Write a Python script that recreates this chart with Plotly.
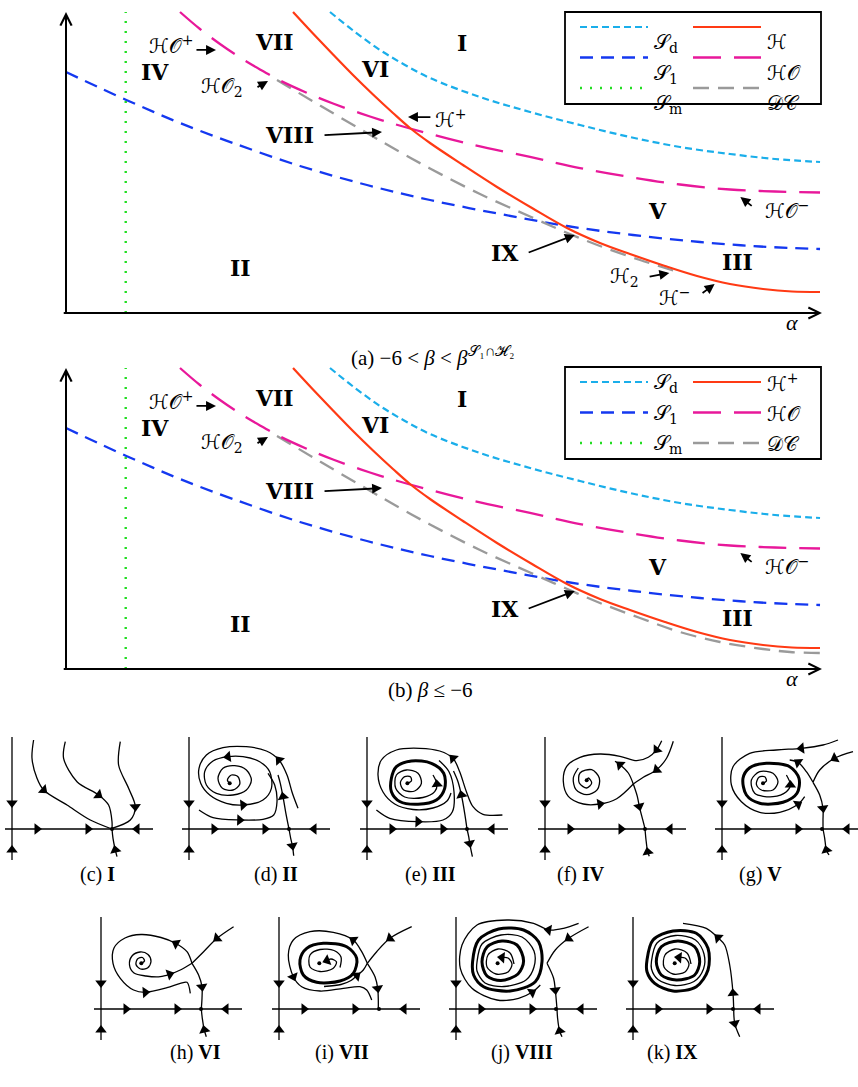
import math
import plotly.graph_objects as go

W, H = 858, 1087

# ---------------------------------------------------------------- bifurcation diagrams (a), (b)
SD_ALPHA = [3.492, 3.823, 4.153, 4.484, 4.815, 5.476, 6.138, 6.799, 7.460, 8.122, 8.783, 9.378, 9.974]
SD_DELTA = [10.0, 9.336, 8.738, 8.239, 7.807, 7.176, 6.678, 6.246, 5.847, 5.515, 5.282, 5.116, 5.017]
S1_ALPHA = [0.0, 0.450, 0.979, 1.508, 2.209, 3.095, 3.981, 4.815, 5.741, 6.627, 7.500, 8.386, 9.180, 9.974]
S1_DELTA = [8.007, 7.475, 6.877, 6.312, 5.648, 4.884, 4.252, 3.754, 3.289, 2.890, 2.591, 2.359, 2.209, 2.126]
SM_ALPHA = [0.79, 0.79]
SM_DELTA = [0.0, 10.0]
H_ALPHA = [3.003, 3.267, 3.532, 3.796, 4.061, 4.325, 4.550, 4.815, 5.251, 5.701, 6.164, 6.627, 7.063,
           7.460, 7.923, 8.347, 8.783, 9.220, 9.603, 9.974]
H_DELTA = [10.0, 9.286, 8.588, 7.907, 7.259, 6.645, 6.146, 5.648, 4.917, 4.186, 3.488, 2.824, 2.326,
           1.960, 1.561, 1.229, 0.963, 0.797, 0.714, 0.698]
HO_ALPHA = [1.508, 1.772, 2.037, 2.302, 2.566, 2.831, 3.175, 3.532, 4.021, 4.550, 5.344, 6.138, 6.799,
            7.460, 8.122, 8.783, 9.378, 9.974]
HO_DELTA = [10.0, 9.435, 8.937, 8.488, 8.090, 7.724, 7.326, 6.960, 6.528, 6.130, 5.615, 5.183, 4.817,
            4.518, 4.269, 4.103, 4.037, 4.003]
DC_A_ALPHA = [2.791, 3.360, 3.981, 4.418, 4.815, 5.476, 6.138, 6.601, 7.063, 7.593, 8.095]
DC_A_DELTA = [7.741, 6.894, 5.980, 5.349, 4.801, 3.953, 3.206, 2.691, 2.226, 1.761, 1.362]
DC_B_ALPHA = [2.791, 3.360, 3.981, 4.418, 4.815, 5.476, 6.138, 6.601, 7.063, 7.593, 8.122, 8.651,
              9.220, 9.577, 9.974]
DC_B_DELTA = [7.741, 6.894, 5.980, 5.349, 4.801, 3.953, 3.206, 2.691, 2.193, 1.694, 1.229, 0.897,
              0.664, 0.565, 0.532]

REGION_NAMES = ["I", "II", "III", "IV", "V", "VI", "VII", "VIII", "IX"]
REGION_ALPHA = [5.24, 2.31, 8.88, 1.18, 7.82, 4.09, 2.76, 2.95, 5.81]
REGION_DELTA = [8.97, 1.50, 1.69, 8.00, 3.39, 8.11, 9.00, 5.91, 1.99]

LABEL_TEXT = ["ℋ𝒪<sup>+</sup>", "ℋ𝒪<sub>2</sub>", "ℋ<sup>+</sup>", "ℋ𝒪<sup>−</sup>", "ℋ<sub>2</sub>", "ℋ<sup>−</sup>"]
LABEL_ALPHA = [1.40, 2.06, 5.09, 9.54, 7.39, 8.06]
LABEL_DELTA = [8.90, 7.51, 6.45, 3.42, 1.20, 0.53]
LABEL_IN_B = [True, True, False, True, False, False]

ARROW_TAIL_ALPHA = [1.706, 2.513, 4.84, 3.40, 6.10, 9.09, 7.70, 8.40]
ARROW_TAIL_DELTA = [8.74, 7.475, 6.51, 5.91, 1.99, 3.52, 1.20, 0.63]
ARROW_HEAD_ALPHA = [1.984, 2.672, 4.524, 4.18, 6.73, 8.92, 7.98, 8.58]
ARROW_HEAD_DELTA = [8.74, 7.708, 6.51, 6.01, 2.59, 3.85, 1.33, 0.96]
ARROW_IN_B = [True, True, False, True, True, True, False, False]

LEGEND_KEYS = ["Sd", "S1", "Sm", "H", "HO", "DC"]
LEGEND_A = ["𝒮<sub>d</sub>", "𝒮<sub>1</sub>", "𝒮<sub>m</sub>", "ℋ", "ℋ𝒪", "𝒟𝒞"]
LEGEND_B = ["𝒮<sub>d</sub>", "𝒮<sub>1</sub>", "𝒮<sub>m</sub>", "ℋ<sup>+</sup>", "ℋ𝒪", "𝒟𝒞"]

STYLE = {
    "Sd": dict(color="#1AAEEA", dash="7px,4px", width=2.2),
    "S1": dict(color="#1438F0", dash="13px,8px", width=2.3),
    "Sm": dict(color="#22DD22", dash="2px,8px", width=2.4),
    "H": dict(color="#FF3A14", dash="solid", width=2.2),
    "HO": dict(color="#E8189A", dash="28px,13px", width=2.3),
    "DC": dict(color="#9A9A9A", dash="16px,9px", width=2.3),
}

# ---------------------------------------------------------------- phase portraits (local px units, y up)
AXIS_CURVES = [
    ([(0, 92), (0, 26), (0, 0)], [1], 1.3),
    ([(0, -31), (0, -21), (0, 0)], [1], 1.3),
    ([(-7, 0), (25, 0), (76, 0), (100, 0)], [1, 2], 1.3),
    ([(141, 0), (125, 0), (100, 0)], [1], 1.3),
]

C_CURVES = [
    ([(21.6, 89), (20, 70.7), (25, 50.7), (31.6, 39), (55, 24), (78.3, 9), (100, 0)], [3], 1.3),
    ([(53.3, 87.3), (51.6, 70.7), (65, 47.3), (86.6, 34), (96.6, 24), (100, 7.3), (100, 0)], [3], 1.3),
    ([(105, -27.7), (103.3, -21), (101, -9.3), (100, 0)], [1], 1.3),
    ([(108.3, 87.3), (106.6, 64), (116.6, 40.7), (123.3, 22.3), (118.3, 9), (100, 0.7)], [3], 1.3),
]

D_CURVES = [
    ([(109, 20.7), (103.4, 35.7), (98, 54), (90, 69), (77.4, 78), (57.4, 82.3), (34, 81.3), (17.4, 74),
      (10, 60.7), (11.7, 45.7), (20.7, 34), (37.4, 25.7), (54, 24), (74, 29), (82.4, 40.7), (80.7, 57.3),
      (70.7, 67.3), (54, 72.3), (39, 72.3), (24, 68), (15.7, 57.3), (17.4, 44), (27.4, 35.7), (44, 34),
      (57.4, 39), (62.4, 49), (57.4, 59), (45.7, 63.3), (34, 60.7), (29, 50.7), (33.4, 40.7), (44, 39),
      (50.7, 44.7), (49, 52.3), (42.4, 54), (38.4, 49), (41.4, 44.7)], [3, 12, 18], 1.3),
    ([(10, 19), (24, 11.3), (50.7, 9), (74, 9.7), (84.7, 14), (88, 27.3), (85.7, 44), (79, 55.7)], [2], 1.3),
    ([(100, 0), (96.7, 16.7), (94, 32.3), (91.3, 45.7), (89, 54)], [2], 1.3),
    ([(100, 0), (101.7, -9.3), (103.4, -16.7), (104.7, -26.7)], [2], 1.3),
]

E_CURVES = [
    ([(24.4, 50.7), (29.4, 62.3), (44.4, 68), (64.4, 65.7), (76.7, 55.7), (77.7, 40.7), (69.4, 29),
      (51, 24.7), (32.7, 27.5), (24.4, 37.3), (24.4, 50.7)], [], 3.0),
    ([(40.4, 45.7), (44.4, 48), (43.4, 52.3), (37.7, 52.3), (33.4, 46.7), (36.7, 39), (47.7, 38),
      (54.4, 45.7), (51, 55.7), (39.4, 59), (29.4, 54), (28.7, 40.7), (37.7, 32), (56, 31.5),
      (67.7, 37.3), (70, 44.7), (66, 54)], [15], 1.3),
    ([(135.4, 14), (116, 14.7), (106, 22.3), (99.4, 37.3), (92.7, 57.3), (86, 70.7), (72.7, 78),
      (52.7, 80.7), (29.4, 79), (14.4, 69), (11, 54), (16, 37), (27.7, 25), (46, 19.5), (66, 21),
      (80, 28), (84, 36)], [5], 1.3),
    ([(9.4, 19), (22.7, 10.7), (51, 7.3), (76, 9), (85.4, 17.3), (87, 37.3), (82, 57.3), (72, 68.5)], [2], 1.3),
    ([(100, 0), (97.7, 15.7), (94.4, 34), (91, 47.3), (86.5, 58)], [2], 1.3),
    ([(100, 0), (101.7, -7.7), (102.7, -14.3), (105.4, -27.7)], [2], 1.3),
]

F_CURVES = [
    ([(116.7, 88.3), (111.7, 79.3), (103.3, 71.7), (91.7, 68.3), (75, 72.7), (55, 75), (35, 71.7),
      (21.7, 62.7), (18.3, 47.7), (23.3, 32.7), (38.3, 25), (55, 25), (71.7, 30.3), (88.3, 45)], [1, 11], 1.3),
    ([(128.3, 87.7), (121.7, 71), (111.7, 59.3), (98.3, 51.7), (88.3, 45)], [2], 1.3),
    ([(88.3, 45), (83.3, 56), (75, 64.3), (70, 67.7)], [2], 1.3),
    ([(88.3, 45), (92.3, 32.7), (94.3, 22.7), (97.7, 9.3), (100, 0.3)], [2], 1.3),
    ([(104.3, -27.3), (102.7, -23), (101, -10.7), (100, 0.3)], [1], 1.3),
    ([(41.7, 48.7), (43.3, 51), (46.7, 46), (41.7, 41), (34.3, 46), (35, 56), (46.7, 59.3), (54.3, 51),
      (52.3, 39.3), (41.7, 34.3), (31, 39.3), (28.3, 51), (33.3, 61)], [], 1.3),
]

G_CURVES = [
    ([(21, 50.7), (27.7, 61.3), (44.4, 65.7), (67.7, 62.3), (77, 50.7), (75, 35.7), (61, 26.7),
      (37.7, 25.7), (24.4, 34), (21, 50.7)], [], 3.0),
    ([(41, 45.7), (44.4, 48), (42.7, 52.3), (37, 51.7), (34.4, 44.7), (39.4, 39), (51, 39), (56, 47.3),
      (51, 55.7), (37.7, 57.3), (29.4, 49), (32.7, 35.7), (51, 32.3), (64.4, 37.3), (68.4, 44),
      (64.4, 54)], [14], 1.3),
    ([(116, 89), (101, 84), (79.4, 80.7), (54.4, 79), (27.7, 75.7), (11, 62.3), (9.4, 44), (19.4, 27.3),
      (37.7, 16.7), (57.7, 16.7), (76, 24.7), (82.7, 32.3)], [2, 10], 1.3),
    ([(131, 77.3), (112.7, 70.7), (97.7, 59), (91, 46.7)], [1], 1.3),
    ([(91, 46.7), (97.7, 34), (101, 20.7), (101, 9), (101, 0)], [2], 1.3),
    ([(91, 46.7), (84.4, 57.3), (76, 66.7), (67.7, 69)], [2], 1.3),
    ([(107, -26), (104.4, -21), (102.7, -9.3), (101, 0)], [1], 1.3),
]

H_CURVES = [
    ([(40.3, 45.7), (43.5, 48), (41.5, 51.5), (36.5, 50), (35, 44.5), (39.5, 40), (46.5, 41), (50, 47.5),
      (47, 54.5), (39, 57), (31, 53), (28.5, 44), (33, 36), (45, 33), (59.3, 32.3), (68.7, 34.7),
      (79.3, 39), (91, 45.7)], [15], 1.3),
    ([(91, 45.7), (86, 57.3), (75, 65.5), (60, 71.5), (40, 74.5), (24, 71), (13, 61), (12, 45.7),
      (19.3, 30.7), (32.6, 19), (44.3, 16.7), (66, 21.3), (79.3, 25.7), (86, 26.7), (89.3, 15.7)], [2, 10], 1.3),
    ([(132.6, 82.3), (116, 70.7), (102.6, 57.3), (91, 45.7)], [1], 1.3),
    ([(91, 45.7), (97.6, 34), (101, 22.3), (101, 10.7), (100.3, 0)], [2], 1.3),
    ([(105.3, -27.7), (103.3, -21), (101.3, -9.3), (100.3, 0)], [1], 1.3),
]

I_CURVES = [
    ([(21, 49), (27.7, 60.7), (44.3, 65.7), (67.7, 62.3), (77.7, 50.7), (74.3, 35.7), (61, 28),
      (37.7, 26.7), (24.3, 34), (21, 49)], [], 3.0),
    ([(61, 41.5), (62, 52), (55, 58.5), (41, 59.5), (31, 54), (31, 42), (41, 37.5), (54, 40.5),
      (57.5, 47), (52, 50), (48, 48.5)], [10], 1.3),
    ([(132.7, 82.3), (111, 70.7), (97.7, 57.3), (88.3, 45.7)], [1], 1.3),
    ([(88.3, 45.7), (96, 32.3), (98.7, 20.7), (99.3, 9), (99.3, 0)], [2], 1.3),
    ([(88.3, 45.7), (82.7, 57.3), (74.3, 69), (54.3, 76.7), (31, 77.3), (14.3, 69), (9.3, 54), (14.3, 32.3),
      (22.7, 22.3), (41, 18), (64.3, 20.7), (81, 22.3), (87.7, 19), (92.7, 9)], [2, 7], 1.3),
    ([(45, 22.5), (62, 24.5), (72, 28.5), (77.7, 33.3), (84.3, 39), (88.3, 45.7)], [3], 1.3),
]

J_CURVES = [
    ([(16.6, 47.3), (22.6, 69), (42.6, 80), (67.6, 79), (82.6, 67.3), (86, 47.3), (79.3, 27.3),
      (54.3, 18), (27.6, 22.3), (17.6, 34), (16.6, 47.3)], [], 3.0),
    ([(21, 47), (26, 65), (45, 74), (66, 72), (78, 58), (78, 42), (70, 29), (48, 22.5), (29, 26),
      (21, 38), (21, 47)], [], 1.3),
    ([(26, 47), (31, 62), (46, 68), (61, 64), (67.6, 48), (62, 35), (45, 28.5), (31, 33), (26, 47)], [], 3.0),
    ([(58, 45), (54, 56), (42, 60), (32, 54), (31, 42), (40, 35), (52, 37), (56, 45), (52, 51),
      (46, 51.5)], [9], 1.3),
    ([(122.6, 85.7), (107.6, 80.7), (92.6, 79), (77.6, 85.7), (51, 89), (21, 84), (6, 64), (4.3, 40.7),
      (16, 20.7), (41, 9), (62.6, 10.7), (76, 16.7), (84.3, 24)], [2, 11], 1.3),
    ([(132.6, 82.3), (112.6, 70.7), (99.3, 59), (91, 45.7)], [1], 1.3),
    ([(91, 45.7), (97.6, 30.7), (99.3, 19), (101, 0)], [2], 1.3),
    ([(106, -27.7), (103.6, -22), (101.6, -9.3), (101, 0)], [1], 1.3),
]

K_CURVES = [
    ([(14, 49), (20, 69), (40, 78), (63.3, 75.7), (75, 60.7), (75, 39), (63.3, 22.3), (40, 18),
      (21.7, 25.7), (14, 37.3), (14, 49)], [], 3.0),
    ([(18.5, 48), (24, 66), (42.5, 73.5), (62.5, 69), (71, 55), (70.5, 40), (61, 27.5), (42, 23.5),
      (25, 29.5), (18.5, 40), (18.5, 48)], [], 1.3),
    ([(23.3, 47.3), (28.3, 62.3), (45, 68), (61.7, 62.3), (66.7, 47.3), (61.7, 34), (43.3, 29),
      (28.3, 34), (23.3, 47.3)], [], 3.0),
    ([(58, 45), (54, 56), (42, 60), (32, 54), (31, 42), (40, 35), (52, 37), (56, 45), (52, 51),
      (46, 51.5)], [9], 1.3),
    ([(100.7, 0), (100, 15.7), (96.7, 44), (91.7, 64), (85, 71.3), (73.3, 80.7), (50, 85.7)], [1, 4], 1.3),
    ([(100.7, 0), (101.7, -14.3), (106.7, -27.7)], [1], 1.3),
]

PORTRAIT_CURVES = [C_CURVES, D_CURVES, E_CURVES, F_CURVES, G_CURVES, H_CURVES, I_CURVES, J_CURVES, K_CURVES]
PORTRAIT_CENTER = [None, (40.7, 45.7), (40.4, 45.7), (41.7, 48.7), (41, 45.7), (40.3, 45.7),
                   (40.3, 45.7), (41.6, 45.7), (41.7, 45.7)]
PORTRAIT_CAPTION = ["(c) <b>I</b>", "(d) <b>II</b>", "(e) <b>III</b>", "(f) <b>IV</b>",
                    "(g) <b>V</b>", "(h) <b>VI</b>", "(i) <b>VII</b>", "(j) <b>VIII</b>",
                    "(k) <b>IX</b>"]

# ---------------------------------------------------------------- layout geometry (pixels)
X0_PX, XS = 66, 75.6          # alpha = 0 pixel, pixels per alpha unit
YS = 30.1                     # pixels per delta unit
PANEL_BASE = [313, 669]       # pixel row of delta = 0 in (a), (b)
XR, YR = (-0.2, 10.2), (-0.3, 10.3)
P_ORIGIN = [(12, 829), (189, 829), (367, 829), (545, 829), (722, 829),
            (101, 1009), (279, 1009), (456, 1009), (633, 1009)]
CAPTION_POS = [(78, 888), (252, 888), (430, 888), (607, 888), (784, 888),
               (168, 1066), (342, 1066), (522, 1066), (700, 1066)]

SERIF = "Liberation Serif, DejaVu Serif, serif"
MATHF = "DejaVu Serif, DejaVu Sans, serif"


def px(x):
    return min(1.0, max(0.0, x / W))


def py(y):
    return min(1.0, max(0.0, 1 - y / H))


fig = go.Figure()
layout = {}

# ---------------------------------------------------------------- main panels
for p, base in enumerate(PANEL_BASE):
    xa = "x" if p == 0 else "x2"
    ya = "y" if p == 0 else "y2"
    kx = "xaxis" if p == 0 else "xaxis2"
    ky = "yaxis" if p == 0 else "yaxis2"
    layout[kx] = dict(domain=[px(X0_PX + XR[0] * XS), px(X0_PX + XR[1] * XS)], range=list(XR),
                      visible=False, anchor=ya, fixedrange=True)
    layout[ky] = dict(domain=[py(base - YR[0] * YS), py(base - YR[1] * YS)], range=list(YR),
                      visible=False, anchor=xa, fixedrange=True)
    dca, dcd = (DC_A_ALPHA, DC_A_DELTA) if p == 0 else (DC_B_ALPHA, DC_B_DELTA)
    series = [("Sm", SM_ALPHA, SM_DELTA), ("Sd", SD_ALPHA, SD_DELTA), ("S1", S1_ALPHA, S1_DELTA),
              ("DC", dca, dcd), ("HO", HO_ALPHA, HO_DELTA), ("H", H_ALPHA, H_DELTA)]
    for key, xs, ys in series:
        st = STYLE[key]
        fig.add_trace(go.Scatter(x=xs, y=ys, mode="lines", xaxis=xa, yaxis=ya, hoverinfo="skip",
                                 showlegend=False,
                                 line=dict(color=st["color"], width=st["width"], dash=st["dash"],
                                           shape="spline", smoothing=1.0)))
    # axes with arrows
    fig.add_annotation(x=XR[1] - 0.2, y=0, ax=-0.05, ay=0, xref=xa, yref=ya, axref=xa, ayref=ya,
                       text="", showarrow=True, arrowhead=5, arrowsize=1.1, arrowwidth=2,
                       arrowcolor="black", standoff=0, startstandoff=0)
    fig.add_annotation(x=0, y=YR[1] - 0.3, ax=0, ay=-0.05, xref=xa, yref=ya, axref=xa, ayref=ya,
                       text="", showarrow=True, arrowhead=5, arrowsize=1.1, arrowwidth=2,
                       arrowcolor="black", standoff=0, startstandoff=0)
    fig.add_annotation(x=-0.28, y=9.9, xref=xa, yref=ya, text="<i>δ</i>", showarrow=False,
                       font=dict(family=SERIF, size=22, color="black"))
    fig.add_annotation(x=9.6, y=-0.3, xref=xa, yref=ya, text="<i>α</i>", showarrow=False,
                       font=dict(family=SERIF, size=22, color="black"))
    # region labels
    for name, a, d in zip(REGION_NAMES, REGION_ALPHA, REGION_DELTA):
        fig.add_annotation(x=a, y=d, xref=xa, yref=ya, text="<b>%s</b>" % name, showarrow=False,
                           font=dict(family="DejaVu Serif, serif", size=22, color="black"))
    # curve labels
    for t, a, d, inb in zip(LABEL_TEXT, LABEL_ALPHA, LABEL_DELTA, LABEL_IN_B):
        if p == 1 and not inb:
            continue
        fig.add_annotation(x=a, y=d, xref=xa, yref=ya, text=t, showarrow=False,
                           font=dict(family=MATHF, size=20, color="black"))
    for ta, td, ha, hd, inb in zip(ARROW_TAIL_ALPHA, ARROW_TAIL_DELTA, ARROW_HEAD_ALPHA,
                                   ARROW_HEAD_DELTA, ARROW_IN_B):
        if p == 1 and not inb:
            continue
        fig.add_annotation(x=ha, y=hd, ax=ta, ay=td, xref=xa, yref=ya, axref=xa, ayref=ya, text="",
                           showarrow=True, arrowhead=2, arrowsize=1.1, arrowwidth=1.8,
                           arrowcolor="black", standoff=0, startstandoff=0)

# ---------------------------------------------------------------- manual legends
shapes = []
for p, top in enumerate([12, 367]):
    names = LEGEND_A if p == 0 else LEGEND_B
    shapes.append(dict(type="rect", xref="paper", yref="paper", x0=px(565), x1=px(821),
                       y0=py(top), y1=py(top + 92), line=dict(color="black", width=1.8),
                       fillcolor="white", layer="below"))
    for i, (key, name) in enumerate(zip(LEGEND_KEYS, names)):
        col, row = divmod(i, 3)
        yy = top + 15 + row * 30.5
        lx0 = 580 + col * 113
        st = STYLE[key]
        shapes.append(dict(type="line", xref="paper", yref="paper", x0=px(lx0), x1=px(lx0 + 68),
                           y0=py(yy), y1=py(yy),
                           line=dict(color=st["color"], width=st["width"], dash=st["dash"])))
        fig.add_annotation(x=px(lx0 + 72), y=py(yy + 1), xref="paper", yref="paper", text=name,
                           xanchor="left", showarrow=False,
                           font=dict(family=MATHF, size=20, color="black"))

fig.add_annotation(x=px(432), y=py(341), xref="paper", yref="paper", showarrow=False,
                   text="(a) −6\u2005&lt;\u2005<i>β</i>\u2005&lt;\u2005<i>β</i><sup>𝒮₁∩ℋ₂</sup>",
                   font=dict(family=SERIF, size=21, color="black"))
fig.add_annotation(x=px(430), y=py(690), xref="paper", yref="paper", showarrow=False,
                   text="(b) <i>β</i>\u2005≤\u2005−6", font=dict(family=SERIF, size=21, color="black"))

# ---------------------------------------------------------------- phase portraits
for n, (curves, (ox, oy)) in enumerate(zip(PORTRAIT_CURVES, P_ORIGIN)):
    idx = n + 3
    xa, ya = "x%d" % idx, "y%d" % idx
    xr = [-12, min(146, W - ox)]
    yr = [-36, 96]
    layout["xaxis%d" % idx] = dict(domain=[px(ox + xr[0]), px(ox + xr[1])], range=xr, visible=False,
                                   anchor=ya, fixedrange=True)
    layout["yaxis%d" % idx] = dict(domain=[py(oy - yr[0]), py(oy - yr[1])], range=yr, visible=False,
                                   anchor=xa, fixedrange=True)
    ax_, ay_, ang = [], [], []
    for pts, arrows, width in AXIS_CURVES + curves:
        xs = [q[0] for q in pts]
        ys = [q[1] for q in pts]
        fig.add_trace(go.Scatter(x=xs, y=ys, mode="lines", xaxis=xa, yaxis=ya, hoverinfo="skip",
                                 showlegend=False,
                                 line=dict(color="black", width=width, shape="spline", smoothing=0.9)))
        for i in arrows:
            j0 = max(0, i - 1)
            j1 = min(len(pts) - 1, i + 1)
            dx = xs[j1] - xs[j0]
            dy = ys[j1] - ys[j0]
            ax_.append(xs[i])
            ay_.append(ys[i])
            ang.append(math.degrees(math.atan2(dx, dy)))
    fig.add_trace(go.Scatter(x=ax_, y=ay_, mode="markers", xaxis=xa, yaxis=ya, hoverinfo="skip",
                             showlegend=False,
                             marker=dict(symbol="triangle-up", size=10, color="black", angle=ang,
                                         line=dict(width=0))))
    dots_x, dots_y = [100], [0]
    if PORTRAIT_CENTER[n] is not None:
        dots_x.append(PORTRAIT_CENTER[n][0])
        dots_y.append(PORTRAIT_CENTER[n][1])
    fig.add_trace(go.Scatter(x=dots_x, y=dots_y, mode="markers", xaxis=xa, yaxis=ya, hoverinfo="skip",
                             showlegend=False, marker=dict(size=4, color="black")))
    cx, cy = CAPTION_POS[n]
    fig.add_annotation(x=px(cx), y=py(cy), xref="paper", yref="paper", showarrow=False,
                       text=PORTRAIT_CAPTION[n], font=dict(family=SERIF, size=20, color="black"))

fig.update_layout(width=W, height=H, margin=dict(l=0, r=0, t=0, b=0, pad=0), autosize=False,
                  paper_bgcolor="white", plot_bgcolor="rgba(0,0,0,0)", showlegend=False,
                  shapes=shapes, **layout)
fig.write_html("out.html")
